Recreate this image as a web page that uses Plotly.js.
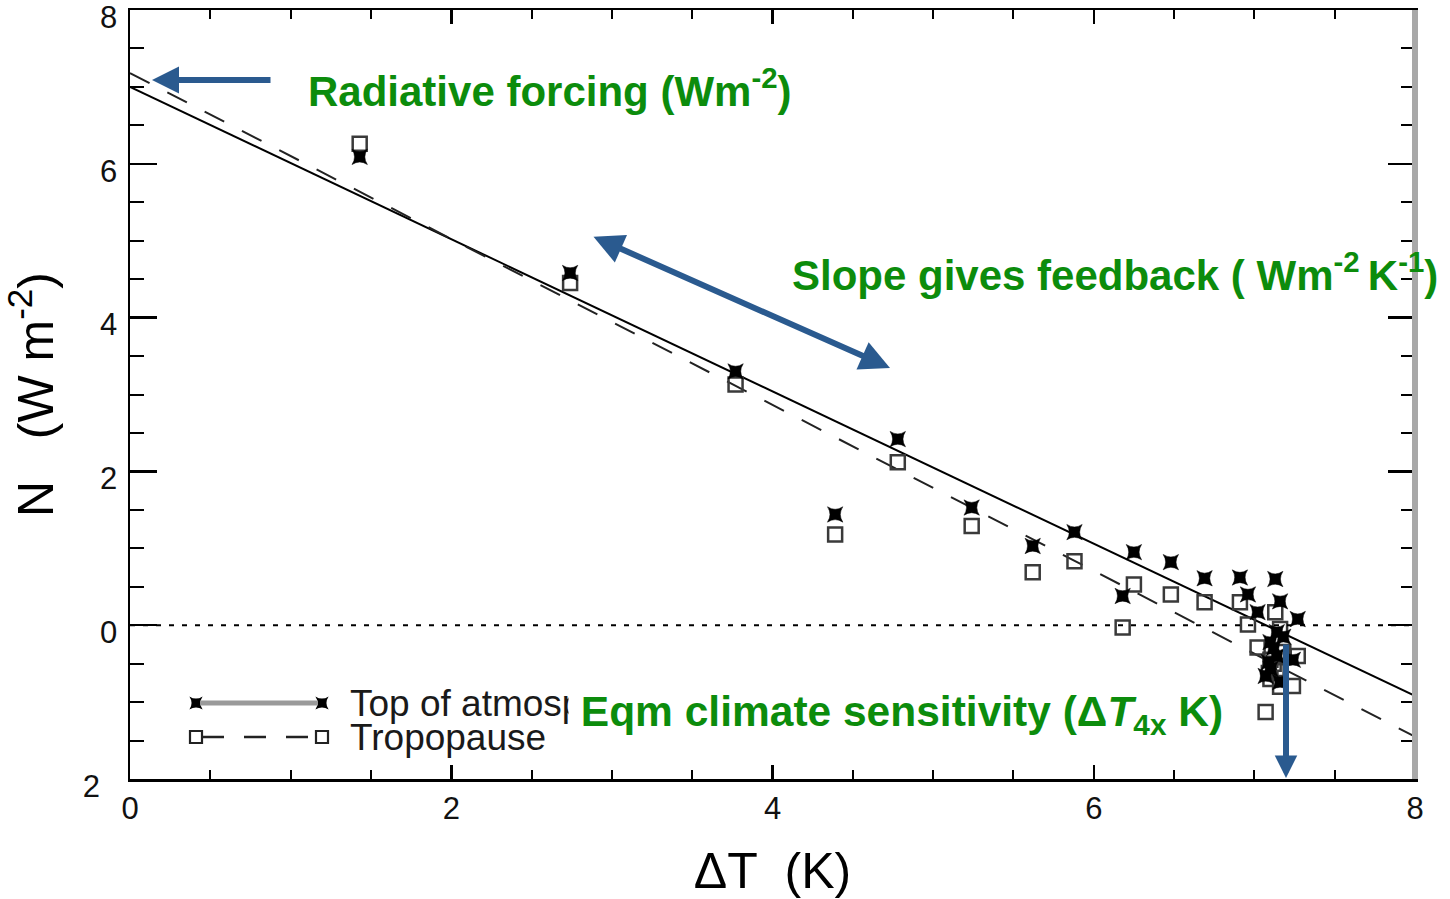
<!DOCTYPE html>
<html>
<head>
<meta charset="utf-8">
<script src="https://cdn.plot.ly/plotly-3.0.1.min.js"></script>
<style>html,body{margin:0;padding:0;background:#fff;}#chart{width:1450px;height:899px;}</style>
</head>
<body>
<div id="chart"></div>
<script>
// Annual-mean global values: surface warming vs net downward flux
const dT    = [1.43, 2.74, 3.77, 4.39, 4.78, 5.24, 5.62, 5.88, 6.18, 6.25, 6.48, 6.69, 6.91, 6.96, 7.02, 7.13, 7.16, 7.27, 7.14, 7.10, 7.14, 7.24, 7.07, 7.16, 7.10, 7.12, 7.18, 7.09];
const toaN  = [6.09, 4.58, 3.30, 1.44, 2.42, 1.53, 1.03, 1.21, 0.38, 0.95, 0.82, 0.61, 0.62, 0.40, 0.17, 0.60, 0.31, 0.08, -0.09, -0.22, -0.40, -0.45, -0.66, -0.74, -0.57, -0.30, -0.15, -0.48];
const tropN = [6.26, 4.45, 3.13, 1.18, 2.12, 1.29, 0.69, 0.83, -0.03, 0.53, 0.40, 0.30, 0.30, 0.01, -0.29, 0.17, -0.05, -0.40, -0.57, -0.45, -0.60, -0.79, -1.13, -0.80, -0.70, -0.50, -0.35, -0.62];

// Regression lines (end points at the axis limits)
const fitT    = [0, 8];
const toaFit  = [7.00, -0.92];
const tropFit = [7.18, -1.45];

// Axis ticks
const yTickVals = [-2, 0, 2, 4, 6, 8];
const yTickText = ['2\u00a0\u00a0', '0', '2', '4', '6', '8'];
const xTickVals = [0, 2, 4, 6, 8];

const seriesNames = ['Top of atmosphere', 'Tropopause'];

const GREEN = '#0c8c0c';
const BLUE = '#2a5a8f';
const FONT = 'Liberation Sans, Arial, Helvetica, sans-serif';

const traces = [
  {x: fitT, y: toaFit, mode: 'lines', line: {color: '#000', width: 2}, showlegend: false, hoverinfo: 'skip'},
  {x: fitT, y: tropFit, mode: 'lines', line: {color: '#222', width: 2, dash: '22px,20px'}, showlegend: false, hoverinfo: 'skip'},
  {x: dT, y: tropN, mode: 'markers', name: seriesNames[1], showlegend: false,
   marker: {symbol: 'square-open', size: 14, color: '#3a3a3a', line: {width: 2.5, color: '#3a3a3a'}}},
  {x: dT, y: toaN, mode: 'markers', name: seriesNames[0], showlegend: false,
   marker: {symbol: 'star-square', size: 14, color: '#000', line: {width: 0.5, color: '#000'}}},
  // legend glyphs (pixel-space overlay axes)
  {x: [196, 322], y: [703, 703], xaxis: 'x2', yaxis: 'y2', mode: 'markers', showlegend: false, hoverinfo: 'skip',
   marker: {symbol: 'star-square', size: 12, color: '#000', line: {width: 0}}},
  {x: [196, 322], y: [737, 737], xaxis: 'x2', yaxis: 'y2', mode: 'markers', showlegend: false, hoverinfo: 'skip',
   marker: {symbol: 'square-open', size: 12, color: '#222', line: {width: 2.2, color: '#222'}}}
];

const shapes = [
  {type: 'line', xref: 'paper', yref: 'y', x0: 0, x1: 1, y0: 0, y1: 0, line: {color: '#000', width: 2, dash: '5px,8px'}},
  {type: 'line', xref: 'paper', yref: 'paper', x0: 1, x1: 1, y0: 0, y1: 1, line: {color: '#a8a8a8', width: 6}},
  {type: 'line', xref: 'x2', yref: 'y2', x0: 200, x1: 318, y0: 703, y1: 703, line: {color: '#9a9a9a', width: 5}},
  {type: 'line', xref: 'x2', yref: 'y2', x0: 202, x1: 316, y0: 737, y1: 737, line: {color: '#222', width: 2.5, dash: '22px,20px'}}
];

const annotations = [
  {xref: 'x2', yref: 'y2', x: 348, y: 703, xanchor: 'left', yanchor: 'middle', showarrow: false,
   text: seriesNames[0], font: {family: FONT, size: 37, color: '#1a1a1a'}},
  {xref: 'x2', yref: 'y2', x: 348, y: 737, xanchor: 'left', yanchor: 'middle', showarrow: false,
   text: seriesNames[1], font: {family: FONT, size: 37, color: '#1a1a1a'}},
  {xref: 'x2', yref: 'y2', x: 306, y: 88, xanchor: 'left', yanchor: 'middle', showarrow: false,
   text: 'Radiative forcing (Wm<sup>-2</sup>)', font: {family: FONT, size: 42, color: GREEN, weight: 'bold'}},
  {xref: 'x2', yref: 'y2', x: 790, y: 272, xanchor: 'left', yanchor: 'middle', showarrow: false,
   text: 'Slope gives feedback ( Wm<sup>-2 </sup>K<sup>-1</sup>)', font: {family: FONT, size: 42, color: GREEN, weight: 'bold'}},
  {xref: 'x2', yref: 'y2', x: 568, y: 714, xanchor: 'left', yanchor: 'middle', showarrow: false,
   bgcolor: '#fff', borderpad: 0,
   text: ' Eqm climate sensitivity (Δ<i>T</i><sub>4x</sub> K)', font: {family: FONT, size: 42.5, color: GREEN, weight: 'bold'}},
  // arrows
  {xref: 'x2', yref: 'y2', axref: 'x2', ayref: 'y2', x: 152, y: 80, ax: 272, ay: 80, text: '', showarrow: true,
   arrowhead: 2, arrowsize: 0.9, arrowwidth: 6, arrowcolor: BLUE, standoff: 0},
  {xref: 'x2', yref: 'y2', axref: 'x2', ayref: 'y2', x: 890, y: 368, ax: 592, ay: 236, text: '', showarrow: true,
   arrowhead: 2, startarrowhead: 2, arrowside: 'end+start', arrowsize: 1, startarrowsize: 1, arrowwidth: 6, arrowcolor: BLUE, standoff: 0, startstandoff: 0},
  {xref: 'x2', yref: 'y2', axref: 'x2', ayref: 'y2', x: 1286, y: 778, ax: 1286, ay: 643, text: '', showarrow: true,
   arrowhead: 2, arrowsize: 0.75, arrowwidth: 6, arrowcolor: BLUE, standoff: 0}
];

const layout = {
  width: 1450, height: 899,
  margin: {l: 130, r: 35, t: 10, b: 120},
  paper_bgcolor: '#fff', plot_bgcolor: '#fff',
  showlegend: false,
  xaxis: {
    range: [0, 8], tickvals: xTickVals, showgrid: false, zeroline: false,
    showline: true, linecolor: '#000', linewidth: 2.5, mirror: 'allticks',
    ticks: 'inside', ticklen: 14, tickwidth: 2.5, tickcolor: '#000',
    minor: {dtick: 0.5, ticks: 'inside', ticklen: 9, tickwidth: 2, tickcolor: '#000', showgrid: false},
    tickfont: {family: FONT, size: 31, color: '#111'},
    ticklabeloverflow: 'allow',
    title: {text: 'ΔT  (K)', font: {family: FONT, size: 50, color: '#000'}, standoff: 30}
  },
  yaxis: {
    range: [-2, 8], tickvals: yTickVals, ticktext: yTickText, showgrid: false, zeroline: false,
    showline: true, linecolor: '#000', linewidth: 2.5, mirror: 'allticks',
    ticks: 'inside', ticklen: 27, tickwidth: 2.5, tickcolor: '#000',
    minor: {dtick: 0.5, ticks: 'inside', ticklen: 14, tickwidth: 2, tickcolor: '#000', showgrid: false},
    tickfont: {family: FONT, size: 31, color: '#111'},
    ticklabeloverflow: 'allow', ticklabelstandoff: 4, ticklabelshift: 7,
    title: {text: 'N   (W m<sup>-2</sup>)', font: {family: FONT, size: 50, color: '#000'}, standoff: 30}
  },
  xaxis2: {overlaying: 'x', range: [130, 1415], visible: false, fixedrange: true},
  yaxis2: {overlaying: 'y', range: [779, 10], visible: false, fixedrange: true},
  shapes: shapes,
  annotations: annotations
};

Plotly.newPlot('chart', traces, layout, {displayModeBar: false, staticPlot: true});
</script>
</body>
</html>
